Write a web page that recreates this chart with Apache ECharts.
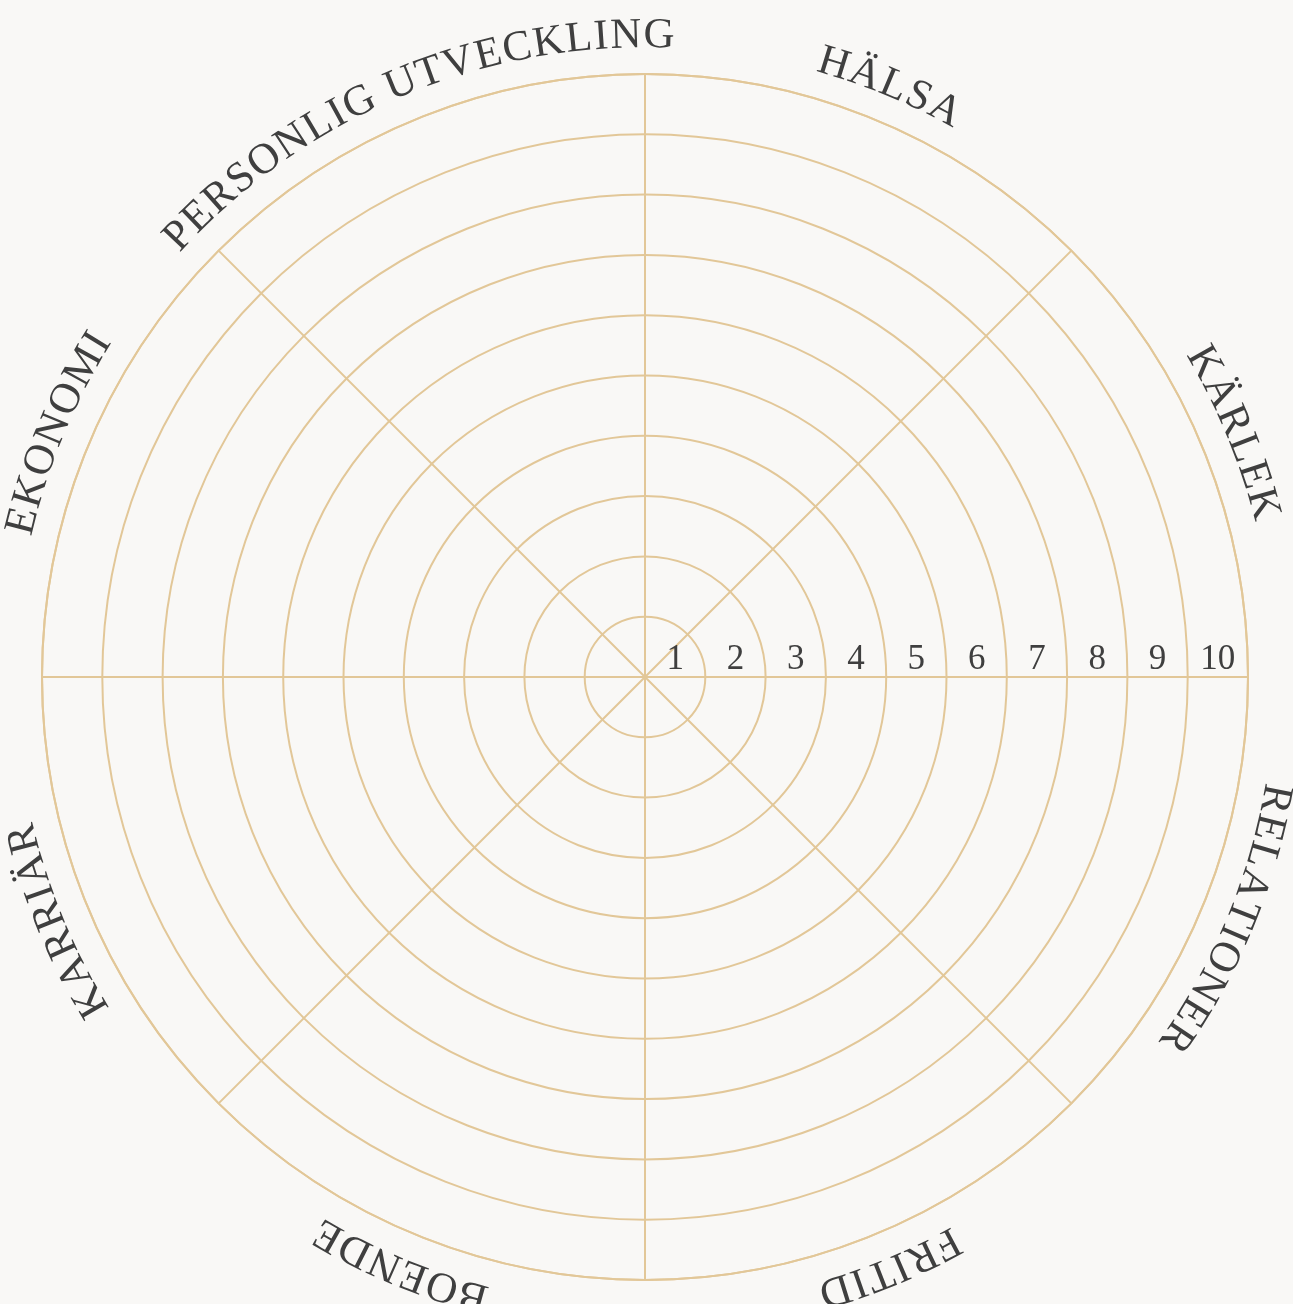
<!DOCTYPE html>
<html>
<head>
<meta charset="utf-8">
<script src="https://cdn.jsdelivr.net/npm/echarts@6/dist/echarts.min.js"></script>
<style>
  html, body { margin: 0; padding: 0; background: #f9f8f6; }
  #chart { width: 1293px; height: 1304px; }
</style>
</head>
<body>
<div id="chart"></div>
<script>
// wheel segments, clockwise starting at 3 o'clock
var categories = ['RELATIONER', 'FRITID', 'BOENDE', 'KARRIÄR', 'EKONOMI', 'PERSONLIG UTVECKLING', 'HÄLSA', 'KÄRLEK']
// rings
var levels = ['1', '2', '3', '4', '5', '6', '7', '8', '9', '10']

var lineColor = '#e2c798'
var textColor = '#3f3f3f'
var serif = 'Liberation Serif'
var labelSize = 43
var letterGap = 2

var ctx = document.createElement('canvas').getContext('2d')
ctx.font = labelSize + 'px "' + serif + '"'

// curved segment names, one text per letter along the outer ring
function renderLabel(params, api) {
  var cs = params.coordSys
  var p = api.coord([api.value(0), api.value(1)])
  var mid = Math.atan2(cs.cy - p[1], p[0] - cs.cx)
  var R = cs.r + 38
  var chars = categories[params.dataIndex].split('')
  var widths = chars.map(function(ch) { return ctx.measureText(ch).width })
  var total = widths.reduce(function(a, b) { return a + b }, 0) + letterGap * (chars.length - 1)
  var start = mid + total / 2 / R
  var acc = 0
  var children = chars.map(function(ch, i) {
    var s = acc + widths[i] / 2
    acc += widths[i] + letterGap
    var a = start - s / R
    return {
      type: 'text',
      x: cs.cx + R * Math.cos(a),
      y: cs.cy - R * Math.sin(a),
      rotation: a - Math.PI / 2,
      style: {
        text: ch,
        fill: textColor,
        fontSize: labelSize,
        fontFamily: serif,
        align: 'center',
        verticalAlign: 'middle'
      }
    }
  })
  return { type: 'group', children: children }
}

var chart = echarts.init(document.getElementById('chart'))
chart.setOption({
  backgroundColor: '#f9f8f6',
  animation: false,
  polar: {
    center: [645, 677],
    radius: 603
  },
  angleAxis: {
    type: 'category',
    data: categories,
    startAngle: 0,
    clockwise: true,
    axisLine: { lineStyle: { color: lineColor, width: 2 } },
    axisTick: { show: false },
    axisLabel: { show: false, interval: 0 },
    splitLine: { show: true, interval: 0, lineStyle: { color: lineColor, width: 2 } }
  },
  radiusAxis: {
    type: 'category',
    data: levels,
    axisLine: { show: true, lineStyle: { color: lineColor, width: 2 } },
    axisTick: { show: false },
    axisLabel: {
      interval: 0,
      margin: 0,
      color: textColor,
      fontSize: 35,
      fontFamily: serif
    },
    splitLine: { show: true, interval: 0, lineStyle: { color: lineColor, width: 2 } }
  },
  series: [
    {
      type: 'custom',
      coordinateSystem: 'polar',
      silent: true,
      clip: false,
      renderItem: renderLabel,
      data: categories.map(function(c, i) { return [levels.length - 1, i] })
    }
  ]
})
</script>
</body>
</html>
